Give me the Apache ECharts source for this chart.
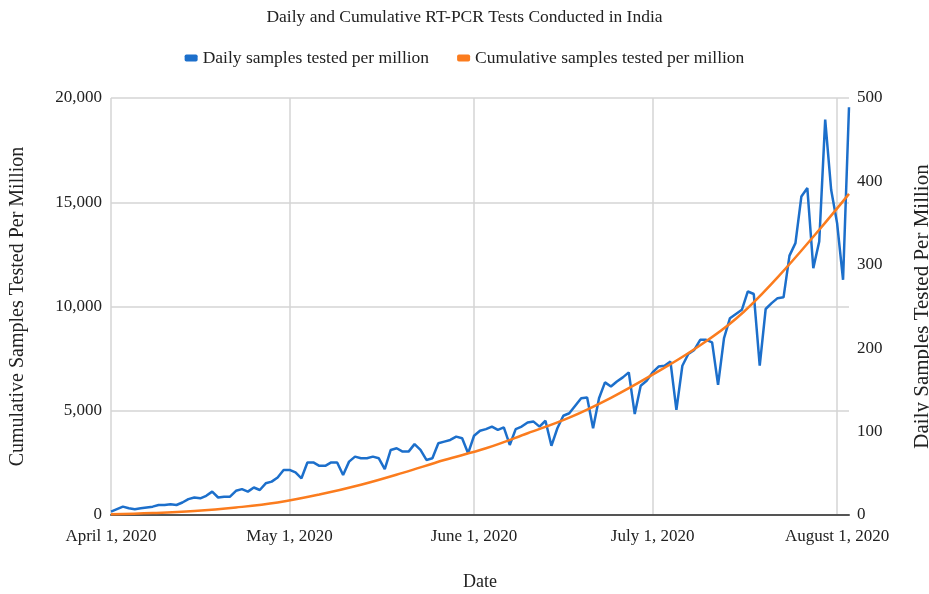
<!DOCTYPE html>
<html>
<head>
<meta charset="utf-8">
<title>Daily and Cumulative RT-PCR Tests</title>
<script src="https://cdn.jsdelivr.net/npm/echarts@6/dist/echarts.min.js"></script>
<style>
  html, body { margin: 0; padding: 0; background: #fff; overflow: hidden; }
  #chart { width: 929px; height: 594px; }
</style>
</head>
<body>
<div id="chart"></div>
<script>
// daily samples tested per million, Apr 1 - Aug 3 2020
var dailyTests = [
  4, 7, 10, 8, 7, 8, 9, 10, 12, 12, 13, 12, 15, 19, 21, 20, 23, 28, 21, 22,
  22, 29, 31, 28, 33, 30, 38, 40, 45, 54, 54, 51, 44, 63, 63, 59, 59, 63, 63, 48,
  64, 70, 68, 68, 70, 68, 55, 78, 80, 76, 76, 85, 78, 66, 68, 86, 88, 90, 94, 92,
  74, 95, 101, 103, 106, 102, 105, 84, 103, 106, 111, 112, 106, 113, 83, 104, 119, 122, 131, 140,
  141, 104, 140, 159, 154, 160, 165, 171, 121, 155, 161, 171, 178, 179, 184, 126, 179, 193, 198, 210,
  210, 207, 156, 212, 236, 241, 246, 268, 265, 179, 247, 254, 260, 261, 311, 326, 382, 392, 296, 328,
  474, 390, 350, 282, 489
];

// cumulative samples per million, sampled every week
var cumDates = [
  '2020-04-01', '2020-04-08', '2020-04-15', '2020-04-22', '2020-04-29', '2020-05-06',
  '2020-05-13', '2020-05-20', '2020-05-27', '2020-06-03', '2020-06-10', '2020-06-17',
  '2020-06-24', '2020-07-01', '2020-07-08', '2020-07-15', '2020-07-22', '2020-07-29', '2020-08-03'
];
var cumValues = [
  30, 90, 190, 360, 600, 980, 1450, 2020, 2640, 3200, 3920, 4670,
  5620, 6730, 7950, 9410, 11400, 13680, 15400
];

var leftTicks = { min: 0, max: 20000, interval: 5000 };
var rightTicks = { min: 0, max: 500, interval: 100 };

var monthNames = ['January', 'February', 'March', 'April', 'May', 'June', 'July',
  'August', 'September', 'October', 'November', 'December'];

// one category per day
var dates = [];
for (var i = 0; i < dailyTests.length; i++) {
  var d = new Date(Date.UTC(2020, 3, 1 + i));
  dates.push(d.toISOString().slice(0, 10));
}

function isMonthStart(idx, val) {
  return val.slice(8) === '01';
}

var FONT = 'Liberation Serif';
var chart = echarts.init(document.getElementById('chart'));

var option = {
  animation: false,
  textStyle: { fontFamily: FONT, color: '#222' },
  title: {
    text: 'Daily and Cumulative RT-PCR Tests Conducted in India',
    left: 'center',
    top: 3,
    textStyle: { fontFamily: FONT, fontSize: 17.5, fontWeight: 'normal', color: '#222' }
  },
  legend: {
    top: 44,
    left: 'center',
    itemWidth: 13,
    itemHeight: 7,
    itemGap: 28,
    icon: 'roundRect',
    textStyle: { fontFamily: FONT, fontSize: 17.5, color: '#222' },
    data: ['Daily samples tested per million', 'Cumulative samples tested per million']
  },
  grid: { left: 111, right: 80, top: 98, bottom: 79, containLabel: false, outerBoundsMode: 'none' },
  xAxis: {
    type: 'category',
    data: dates,
    boundaryGap: false,
    name: 'Date',
    nameLocation: 'middle',
    nameGap: 58,
    nameTextStyle: { fontFamily: FONT, fontSize: 18, color: '#222' },
    axisLine: { lineStyle: { color: '#555', width: 2 } },
    axisTick: { show: false },
    axisLabel: {
      interval: isMonthStart,
      margin: 13,
      fontFamily: FONT,
      fontSize: 17,
      color: '#222',
      formatter: function (val) {
        var p = val.split('-');
        return monthNames[parseInt(p[1], 10) - 1] + ' ' + parseInt(p[2], 10) + ', ' + p[0];
      }
    },
    splitLine: { show: true, interval: isMonthStart, lineStyle: { color: '#d4d4d4', width: 1.5 } }
  },
  yAxis: [
    {
      type: 'value',
      min: leftTicks.min,
      max: leftTicks.max,
      interval: leftTicks.interval,
      name: 'Cumulative Samples Tested Per Million',
      nameLocation: 'middle',
      nameGap: 83,
      nameTextStyle: { fontFamily: FONT, fontSize: 20, color: '#222' },
      axisLine: { show: false },
      axisTick: { show: false },
      axisLabel: {
        margin: 9,
        fontFamily: FONT,
        fontSize: 17,
        color: '#222',
        formatter: function (v) { return v.toLocaleString('en-US'); }
      },
      splitLine: { lineStyle: { color: '#d4d4d4', width: 1.5 } }
    },
    {
      type: 'value',
      min: rightTicks.min,
      max: rightTicks.max,
      interval: rightTicks.interval,
      name: 'Daily Samples Tested Per Million',
      nameLocation: 'middle',
      nameGap: 63,
      nameRotate: 90,
      nameTextStyle: { fontFamily: FONT, fontSize: 21, color: '#222' },
      axisLine: { show: false },
      axisTick: { show: false },
      axisLabel: { margin: 8, fontFamily: FONT, fontSize: 17, color: '#222' },
      splitLine: { show: false }
    }
  ],
  series: [
    {
      name: 'Daily samples tested per million',
      type: 'line',
      yAxisIndex: 1,
      data: dailyTests,
      symbol: 'none',
      itemStyle: { color: '#1c6fcb' },
      lineStyle: { color: '#1c6fcb', width: 2.5 },
      z: 2
    },
    {
      name: 'Cumulative samples tested per million',
      type: 'line',
      yAxisIndex: 0,
      data: cumDates.map(function (d, k) { return [d, cumValues[k]]; }),
      smooth: 0.4,
      symbol: 'none',
      itemStyle: { color: '#fb7c1e' },
      lineStyle: { color: '#fb7c1e', width: 2.5 },
      z: 3
    }
  ]
};

chart.setOption(option);
</script>
</body>
</html>
